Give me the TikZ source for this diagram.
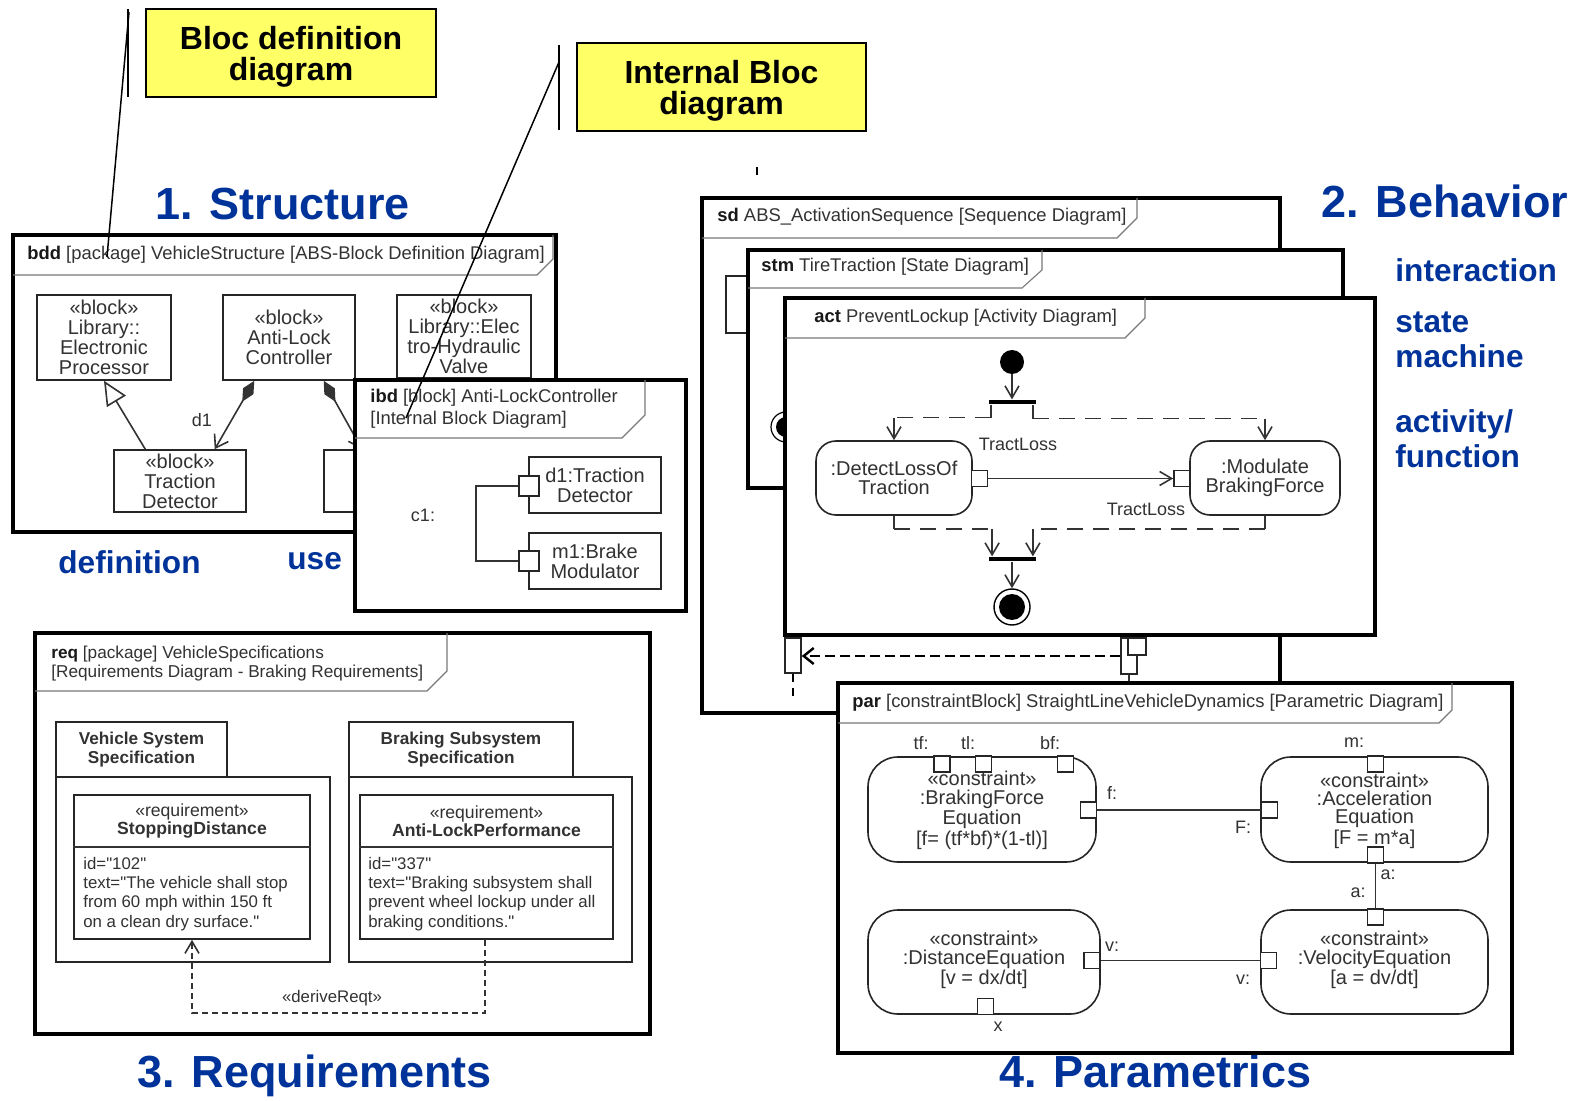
\documentclass[tikz,border=0pt]{standalone}
\usepackage{fontspec}
\setmainfont{Liberation Sans}
\usetikzlibrary{arrows.meta,fit,calc}

\definecolor{headblue}{RGB}{0,51,153}
\definecolor{noteyellow}{RGB}{255,255,102}
\definecolor{ink}{RGB}{50,50,50}
\definecolor{tabgray}{RGB}{120,120,120}

\newcommand\fsz[2]{\fontsize{#1}{#2}\selectfont}
\newcommand\kw[1]{\textbf{\textcolor{black!90}{#1}}}
% straight double quote, set as a glyph so no ligature mapping applies
\newcommand\qt{\XeTeXglyph\XeTeXcharglyph34\relax}

\begin{document}
\begin{tikzpicture}[x=0.5pt,y=-0.5pt,
  frame/.style={draw=black,line width=2pt,fill=white},
  tabline/.style={draw=tabgray,line width=0.55pt},
  dtitle/.style={anchor=west,inner sep=0pt,text=ink,align=left,font=\fsz{9.2}{11}},
  head/.style={anchor=base west,inner sep=0pt,text=headblue,font=\bfseries\fsz{22.5}{27}},
  subhead/.style={anchor=base west,inner sep=0pt,text=headblue,font=\bfseries\fsz{15.8}{17.5}},
  note/.style={draw=black,line width=1pt,fill=noteyellow,inner sep=0pt},
  notetxt/.style={inner sep=0pt,align=center,font=\bfseries\fsz{16}{15.3}},
  leader/.style={draw=black,line width=0.75pt},
  blk/.style={draw=black!85,line width=0.8pt,fill=white,inner sep=0pt},
  rblk/.style={blk,rounded corners=10pt},
  cblk/.style={blk,rounded corners=15pt},
  btxt/.style={inner sep=0pt,align=center,text=ink,font=\fsz{10}{10}},
  atxt/.style={btxt,font=\fsz{10}{9.5}},
  ctxt/.style={btxt,font=\fsz{10}{9.3}},
  port/.style={draw=black!85,line width=0.8pt,fill=white,minimum size=8pt,inner sep=0pt},
  lbl/.style={inner sep=0pt,text=ink,font=\fsz{9}{10}},
  wire/.style={draw=black!80,line width=0.8pt},
  flow/.style={wire,-{Straight Barb[length=6pt,width=7pt]}},
  dflow/.style={wire,dash pattern=on 8pt off 5pt},
  gen/.style={wire,-{Triangle[open,length=12pt,width=11pt,fill=white]}},
  comp/.style={wire,{Diamond[length=12pt,width=6pt]}-{Straight Barb[length=6pt,width=8pt]}},
  derive/.style={wire,dash pattern=on 3pt off 2pt,-{Straight Barb[length=6pt,width=7pt]}},
  msg/.style={draw=black,line width=1.2pt,dash pattern=on 5pt off 2.5pt,-{Straight Barb[length=5pt,width=8pt]}},
  bar/.style={fill=black,inner sep=0pt,minimum width=23.5pt,minimum height=2.2pt},
]
\useasboundingbox (0,0) rectangle (1586,1101);

% ---------- section headings ----------
\node[head] (hstruct) at (155,220) {1. Structure};
\node[head] (hbehav) at (1321,218) {2. Behavior};
\node[head] (hreq) at (137,1087) {3. Requirements};
\node[head] (hpar) at (999,1087) {4. Parametrics};
\node[subhead] (sinter) at (1395,282) {interaction};
\node[subhead] (sstate) at (1395,333) {state};
\node[subhead] (smach) at (1395,368) {machine};
\node[subhead] (sact) at (1395,433) {activity/};
\node[subhead] (sfun) at (1395,468) {function};
\node[subhead] (sdef) at (58,574) {definition};
\node[subhead] (suse) at (287,570) {use};

% ---------- yellow notes ----------
\node[note,fit={(146,9) (436,97)}] (nbdd) {};
\node[notetxt] (nbddtxt) at ($(nbdd.center)+(0,4)$) {Bloc definition\\diagram};
\node[note,fit={(577,43) (866,131)}] (nibd) {};
\node[notetxt] (nibdtxt) at ($(nibd.center)+(0,4)$) {Internal Bloc\\diagram};
\coordinate (tickA) at (757,167); \coordinate (tickB) at (757,175);
\draw[leader] (tickA) -- (tickB);

% ---------- bdd ----------
\draw[frame] (13,235) rectangle (556,532);
\draw[tabline] (13,275) -- (537,275) -- (553,259) -- (553,235);
\node[dtitle] (bddt) at (27,255) {\kw{bdd} [package] VehicleStructure [ABS-Block Definition Diagram]};
\node[blk,fit={(37,295) (171,380)}] (ep) {};
\node[btxt] (eptxt) at (ep.center) {«block»\\Library::\\Electronic\\Processor};
\node[blk,fit={(223,295) (355,380)}] (alc) {};
\node[btxt] (alctxt) at (alc.center) {«block»\\Anti-Lock\\Controller};
\node[blk,fit={(397,295) (531,378)}] (ehv) {};
\node[btxt] (ehvtxt) at (ehv.center) {«block»\\Library::Elec\\tro-Hydraulic\\Valve};
\node[blk,fit={(114,450) (246,512)}] (td) {};
\node[btxt] (tdtxt) at (td.center) {«block»\\Traction\\Detector};
\node[blk,fit={(324,450) (456,512)}] (bm) {};
\draw[gen] ($(td.north west)!0.24!(td.north east)$) -- (ep.south);
\draw[comp] ($(alc.south west)!0.24!(alc.south east)$) -- ($(td.north west)!0.76!(td.north east)$);
\draw[comp] ($(alc.south west)!0.76!(alc.south east)$) -- ($(bm.north west)!0.29!(bm.north east)$);
\node[lbl] (d1lbl) at (202,420) {d1};

% ---------- ibd ----------
\draw[frame] (355,380) rectangle (686,611);
\draw[tabline] (355,438) -- (622,438) -- (645,415) -- (645,380);
\node[dtitle] (ibdt) at (370,409) {\kw{ibd} [block] Anti-LockController\\{}[Internal Block Diagram]};
\node[blk,fit={(529,457) (661,513)}] (d1p) {};
\node[btxt] (d1ptxt) at (d1p.center) {d1:Traction\\Detector};
\node[blk,fit={(529,533) (661,589)}] (m1p) {};
\node[btxt] (m1ptxt) at (m1p.center) {m1:Brake\\Modulator};
\node[port,minimum size=10pt] (pd1) at (529,486) {};
\node[port,minimum size=10pt] (pm1) at (529,561) {};
\draw[wire] (pd1.west) -- ++(-42,0) |- (pm1.west);
\node[lbl] (c1lbl) at (423,515) {c1:};

% leader lines from the notes
\coordinate (ldA) at (128,9); \coordinate (ldB) at (128,97);
\draw[leader] (ldA) -- (ldB);
\coordinate (ldC) at (129,12); \coordinate (ldD) at (107,257);
\draw[leader] (ldC) -- (ldD);
\coordinate (ldE) at (559,45); \coordinate (ldF) at (559,130);
\draw[leader] (ldE) -- (ldF);
\coordinate (ldG) at (559,62); \coordinate (ldH) at (406,418);
\draw[leader] (ldG) -- (ldH);

% ---------- req ----------
\draw[frame] (35,633) rectangle (650,1034);
\draw[tabline] (35,691) -- (427,691) -- (447,671) -- (447,633);
\node[dtitle,font=\fsz{8.6}{9.6}] (reqt) at (51,663.5) {\kw{req} [package] VehicleSpecifications\\{}[Requirements Diagram - Braking Requirements]};
\node[blk,fit={(56,722) (227,777)}] (vsst) {};
\node[btxt,font=\bfseries\fsz{8.6}{9.5}] (vssttxt) at (vsst.center) {Vehicle System\\Specification};
\node[blk,fit={(56,777) (330,962)}] (vss) {};
\node[blk,fit={(74,795) (310,939)}] (sdr) {};
\draw[wire] ($(sdr.north west)+(0,53)$) -- ($(sdr.north east)+(0,53)$);
\node[lbl,font=\fsz{8.8}{9},align=center] (sdrh) at (192,821) {«requirement»\\\textbf{StoppingDistance}};
\node[lbl,font=\fsz{8.4}{9.65},align=left,anchor=west] (sdrb) at (83,894) {id=\qt102\qt\\text=\qt The vehicle shall stop\\from 60 mph within 150 ft\\on a clean dry surface.\qt};
\node[blk,fit={(349,722) (573,777)}] (bsst) {};
\node[btxt,font=\bfseries\fsz{8.6}{9.5}] (bssttxt) at (bsst.center) {Braking Subsystem\\Specification};
\node[blk,fit={(349,777) (632,962)}] (bss) {};
\node[blk,fit={(360,795) (613,939)}] (alp) {};
\draw[wire] ($(alp.north west)+(0,53)$) -- ($(alp.north east)+(0,53)$);
\node[lbl,font=\fsz{8.8}{9},align=center] (alph) at (486.5,821) {«requirement»\\\textbf{Anti-LockPerformance}};
\node[lbl,font=\fsz{8.4}{9.65},align=left,anchor=west] (alpb) at (368,894) {id=\qt337\qt\\text=\qt Braking subsystem shall\\prevent wheel lockup under all\\braking conditions.\qt};
\draw[derive] ($(alp.south west)!0.494!(alp.south east)$) -- ++(0,73) -| ($(sdr.south west)!0.5!(sdr.south east)$);
\node[lbl,font=\fsz{8.4}{9}] (drlbl) at (332,998) {«deriveReqt»};

% ---------- sd / stm / act ----------
\draw[frame] (702,198) rectangle (1280,713);
\draw[tabline] (702,238) -- (1117,238) -- (1137,218) -- (1137,198);
\node[dtitle] (sdt) at (717,217) {\kw{sd} ABS\_ActivationSequence [Sequence Diagram]};
\node[blk,fit={(726,276) (766,333)}] (llhead) {};

\draw[frame] (748,250) rectangle (1343,488);
\draw[tabline] (748,288) -- (1022,288) -- (1042,270) -- (1042,250);
\node[dtitle] (stmt) at (761,267) {\kw{stm} TireTraction [State Diagram]};
\node[circle,draw=black,line width=0.6pt,minimum size=15pt,inner sep=0pt] (fstate) at (786,427) {};
\node[circle,fill=black,minimum size=10pt,inner sep=0pt] (fstatedot) at (fstate.center) {};

\draw[frame] (785,298) rectangle (1375,635);
\draw[tabline] (785,338) -- (1125,338) -- (1145,318) -- (1145,298);
\node[dtitle] (actt) at (814,318) {\kw{act} PreventLockup [Activity Diagram]};
\node[circle,fill=black,minimum size=12pt,inner sep=0pt] (init) at (1012,362) {};
\node[bar] (fork) at (1012,402) {};
\draw[flow] (init) -- (fork);
\node[rblk,fit={(816,441) (972,515)}] (dlt) {};
\node[atxt] (dlttxt) at (dlt.center) {:DetectLossOf\\Traction};
\node[rblk,fit={(1190,441) (1340,515)}] (mbf) {};
\node[atxt] (mbftxt) at (mbf.center) {:Modulate\\BrakingForce};
\node[port] (pdlt) at (979.5,478.5) {};
\node[port] (pmbf) at (1182,478.5) {};
\draw[flow] (pdlt.east) -- (pmbf.west);
\node[lbl] (tl1) at (1018,444) {TractLoss};
\node[lbl] (tl2) at (1146,509) {TractLoss};
% fork branches
\draw[wire] ($(fork.south west)+(3,0)$) -- ++(0,13) coordinate (fk1);
\draw[dflow] (fk1) -- (fk1 -| dlt.north) coordinate (fk2);
\draw[flow] (fk2) -- (dlt.north);
\draw[wire] ($(fork.south east)+(-3,0)$) -- ++(0,14) coordinate (fk3);
\draw[dflow] (fk3) -- (fk3 -| mbf.north) coordinate (fk4);
\draw[flow] (fk4) -- (mbf.north);
% join
\node[bar] (join) at (1012,559) {};
\coordinate (jl) at ($(join.north west)+(4,0)$);
\coordinate (jr) at ($(join.north east)+(-3,0)$);
\draw[wire] (dlt.south) -- ++(0,13) coordinate (jn1);
\draw[dflow] (jn1) -- (jn1 -| jl) coordinate (jn2);
\draw[flow] (jn2) -- (jl);
\draw[wire] (mbf.south) -- ++(0,13) coordinate (jn3);
\draw[dflow] (jn3) -- (jn3 -| jr) coordinate (jn4);
\draw[flow] (jn4) -- (jr);
\node[circle,draw=black,line width=0.7pt,minimum size=18pt,inner sep=0pt] (final) at (1012,607) {};
\node[circle,fill=black,minimum size=13pt,inner sep=0pt] (finaldot) at (final.center) {};
\draw[flow] (join) -- (final);

% lifelines below the activity frame
\node[blk,fit={(785,638) (801,673)}] (lla) {};
\draw[draw=black,line width=1pt,dash pattern=on 4pt off 3pt] (lla.south) -- ++(0,22);
\node[blk,fit={(1121,638) (1137,674)}] (llb) {};
\node[blk,fit={(1128,638) (1146,655)}] (llc) {};
\draw[wire] (llb.south) -- ++(0,9);
\draw[msg] (llb.west) -- (llb.west -| lla.east);

% ---------- par ----------
\draw[frame] (838,683) rectangle (1512,1053);
\draw[tabline] (838,723) -- (1439,723) -- (1452,710) -- (1452,683);
\node[dtitle] (part) at (852,703) {\kw{par} [constraintBlock] StraightLineVehicleDynamics [Parametric Diagram]};
\node[cblk,fit={(868,757) (1096,862)}] (bfe) {};
\node[ctxt,font=\fsz{10}{9.1}] (bfetxt) at ($(bfe.center)+(0,1)$) {«constraint»\\:BrakingForce\\Equation\\{}[f= (tf*bf)*(1-tl)]};
\node[cblk,fit={(1261,757) (1488,862)}] (ace) {};
\node[ctxt,font=\fsz{10}{9.1}] (acetxt) at ($(ace.center)+(0,1)$) {«constraint»\\:Acceleration\\Equation\\{}[F = m*a]};
\node[cblk,fit={(868,910) (1100,1014)}] (dse) {};
\node[ctxt] (dsetxt) at ($(dse.center)+(0,-2)$) {«constraint»\\:DistanceEquation\\{}[v = dx/dt]};
\node[cblk,fit={(1261,910) (1488,1014)}] (vle) {};
\node[ctxt] (vletxt) at ($(vle.center)+(0,-2)$) {«constraint»\\:VelocityEquation\\{}[a = dv/dt]};
\node[port] (ptf) at (942,764) {};
\node[port] (ptl) at (983.5,764) {};
\node[port] (pbf) at (1065.5,764) {};
\node[port] (pf) at (1088.5,810) {};
\node[port] (pF) at (1269.5,810) {};
\node[port] (pm) at (1375.5,764) {};
\node[port] (pa1) at (1375.5,855) {};
\node[port] (pa2) at (1375.5,917) {};
\node[port] (pv2) at (1268.5,960.5) {};
\node[port] (pv1) at (1092,960.5) {};
\node[port] (px) at (985.5,1006.5) {};
\draw[wire] (pf.east) -- (pF.west);
\draw[wire] (pa1.south) -- (pa2.north);
\draw[wire] (pv1.east) -- (pv2.west);
\node[lbl] (ltf) at (921,743) {tf:};
\node[lbl] (ltl) at (968,743) {tl:};
\node[lbl] (lbf) at (1050,743) {bf:};
\node[lbl] (lm) at (1354,743) {m:};
\node[lbl] (lf) at (1112,793) {f:};
\node[lbl] (lF) at (1243,827) {F:};
\node[lbl] (la1) at (1388,875) {a:};
\node[lbl] (la2) at (1358,893) {a:};
\node[lbl] (lv1) at (1112,947) {v:};
\node[lbl] (lv2) at (1243,980) {v:};
\node[lbl] (lx) at (998,1027) {x};
\end{tikzpicture}
\end{document}
